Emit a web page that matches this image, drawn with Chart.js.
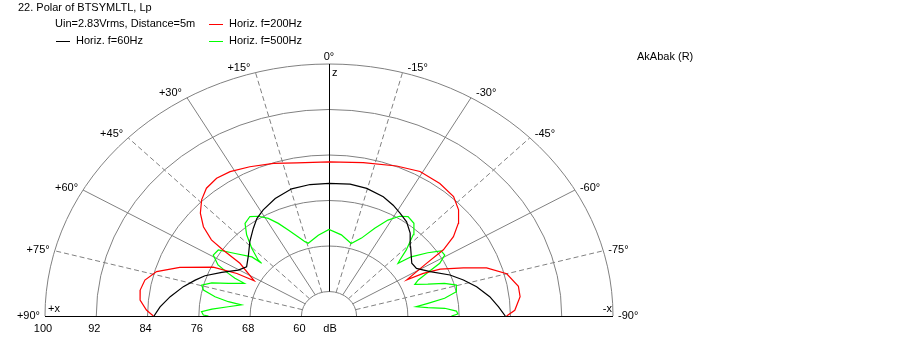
<!DOCTYPE html>
<html>
<head>
<meta charset="utf-8">
<script src="https://cdn.jsdelivr.net/npm/chart.js@4/dist/chart.umd.min.js"></script>
<style>
  body { margin: 0; background: #fff; }
</style>
</head>
<body>
<canvas id="polar" width="907" height="354"></canvas>
<script>
// rings of the polar grid (dB), and the angles of the spokes
const dbRings = [100, 92, 84, 76, 68, 60];
const spokeAngles = [-75, -60, -45, -30, -15, 0, 15, 30, 45, 60, 75];
const angleLabels = [-90, -75, -60, -45, -30, -15, 0, 15, 30, 45, 60, 75, 90];

// Horiz. f=60Hz  (angle in deg, + is left; level in dB)
const angles60 = [-90, -86.5, -82.3, -77.4, -73.2, -69.1, -63.7, -58.5, -54.3, -46.3, -41, -36.2, -31.5, -27.2, -22, -14.7, -8.1, 0,
  7.3, 14.6, 22.1, 28.8, 33.3, 37.5, 43.3, 49.6, 56, 60.3, 65.4, 69.9, 73.2, 77.2, 82.2, 86.5, 90];
const level60 = [83.2, 82.2, 81.0, 79.3, 77.6, 75.9, 73.3, 71.7, 71.6, 73.3, 75.0, 76.2, 76.9, 77.6, 78.3, 78.9, 79.1, 79.0,
  79.0, 78.8, 78.0, 77.0, 76.2, 75.1, 73.7, 72.2, 71.2, 72.0, 74.1, 76.3, 77.5, 79.0, 80.7, 82.1, 83.0];

// Horiz. f=200Hz
const angles200 = [-90, -88, -83.5, -80, -75, -71, -68, -64.6, -63, -62.4, -58.7, -56.9, -54.3, -51.1, -47.3, -42.8, -36.6, -29.2, -21.8, -11.2, 0,
  10.6, 17.9, 25.2, 31.3, 35.9, 40.4, 44.2, 48, 51.3, 53.9, 54.9, 56.3, 62.1, 62.5, 64.6, 69.8, 73.8, 77.6, 81.2, 84.6, 87.9, 90];
const level200 = [83.4, 84.7, 85.7, 85.7, 84.4, 81.7, 78.3, 74.9, 72.2, 69.4, 73.5, 77.0, 79.6, 81.6, 83.2, 84.3, 84.7, 84.8, 84.1, 83.2, 82.8,
  83.1, 83.9, 84.7, 85.4, 85.6, 85.2, 84.2, 82.7, 80.8, 78.4, 75.9, 72.4, 68.9, 71.9, 75.7, 80.5, 83.7, 85.1, 85.5, 85.3, 84.2, 83.1];

// Horiz. f=500Hz
const angles500 = [-90, -89, -87.5, -85.7, -84.6, -83.2, -81.8, -80.2, -77.9, -74.7, -72.3, -70, -67.4, -65.5, -63.6, -61.8, -59.3, -56.8,
  -54.2, -50.9, -49.3, -48.3, -46.1, -42.6, -39.1, -35.2, -32.1, -28.6, -24.8, -20.3, -15.2, -7.7, 0,
  6.7, 14.2, 16, 19, 22.8, 25.9, 28.9, 32.1, 35.2, 38.8, 42, 45.4, 48.3, 48.6, 49.2, 53.1, 56.1, 59.3, 62.6, 64.5, 65.7, 66.5,
  69.9, 72.3, 74.7, 76.9, 79.2, 80.9, 81.9, 84.1, 86.2, 87.8, 89.5, 90];
const level500 = [74.8, 75.8, 75.6, 73.8, 71.2, 69.4, 71.3, 74.0, 76.0, 76.3, 74.6, 72.1, 70.2, 71.0, 72.9, 75.3, 76.7, 76.6,
  74.7, 72.2, 69.9, 70.5, 72.4, 75.1, 76.7, 77.1, 76.4, 74.9, 72.7, 70.3, 68.9, 70.1, 70.9,
  70.0, 68.9, 69.3, 70.4, 72.1, 73.8, 75.3, 76.4, 77.1, 76.6, 74.9, 72.6, 70.5, 69.7, 71.6, 74.0, 76.5, 76.7, 75.2, 73.1, 71.8, 70.1,
  72.4, 74.9, 76.3, 75.8, 73.8, 71.6, 69.5, 71.5, 74.0, 75.6, 75.3, 74.5];

const DB_CENTER = 55.7;           // level that sits at the middle of the plot
const R = 100 - DB_CENTER;        // outer ring
const GRAY = "#808080";
const FONT = "11px 'Liberation Sans', Arial, sans-serif";

const toXY = (deg, db) => {
  const a = deg * Math.PI / 180;
  const r = db - DB_CENTER;
  return { x: -r * Math.sin(a), y: r * Math.cos(a) };
};
const curve = (angles, levels) => angles.map((a, i) => toXY(a, levels[i]));

const polarGrid = {
  id: "polarGrid",
  beforeDatasetsDraw(chart) {
    const { ctx, scales: { x, y } } = chart;
    const cx = x.getPixelForValue(0), cy = y.getPixelForValue(0);
    const px = (p) => [x.getPixelForValue(p.x), y.getPixelForValue(p.y)];
    ctx.save();
    ctx.lineWidth = 1;
    ctx.strokeStyle = GRAY;
    dbRings.forEach((db) => {
      const rx = x.getPixelForValue(db - DB_CENTER) - cx;
      const ry = cy - y.getPixelForValue(db - DB_CENTER);
      ctx.beginPath();
      ctx.ellipse(cx, cy, rx, ry, 0, Math.PI, 2 * Math.PI);
      ctx.stroke();
    });
    spokeAngles.forEach((a) => {
      const [x0, y0] = px(toXY(a, 60));
      const [x1, y1] = px(toXY(a, 100));
      ctx.setLineDash(a % 30 === 0 ? [] : [5, 3]);
      ctx.strokeStyle = a === 0 ? "#000" : GRAY;
      ctx.beginPath();
      ctx.moveTo(a === 0 ? x0 + 0.5 : x0, y0);
      ctx.lineTo(a === 0 ? x1 + 0.5 : x1, y1);
      ctx.stroke();
    });
    ctx.setLineDash([]);
    ctx.strokeStyle = "#000";
    ctx.beginPath();
    ctx.moveTo(x.getPixelForValue(-R), cy + 0.5);
    ctx.lineTo(x.getPixelForValue(R), cy + 0.5);
    ctx.stroke();
    ctx.restore();
  },
  afterDraw(chart) {
    const { ctx, scales: { x, y } } = chart;
    const cx = x.getPixelForValue(0), cy = y.getPixelForValue(0);
    ctx.save();
    ctx.font = FONT;
    ctx.fillStyle = "#000";
    ctx.textBaseline = "middle";

    // angle labels round the outer ring
    angleLabels.forEach((a) => {
      const p = toXY(a, 100);
      const lx = x.getPixelForValue(p.x), ly = y.getPixelForValue(p.y);
      const s = Math.sin(a * Math.PI / 180), c = Math.cos(a * Math.PI / 180);
      const txt = (a > 0 ? "+" : "") + a + "°";
      if (a === 0) {
        ctx.textAlign = "center";
        ctx.fillText(txt, lx, ly - 7);
      } else {
        ctx.textAlign = a > 0 ? "right" : "left";
        ctx.fillText(txt, lx - 5 * Math.sign(s), ly - 5 * c);
      }
    });

    // dB ticks along the left half of the base line
    ctx.textAlign = "center";
    dbRings.forEach((db) => {
      ctx.fillText(String(db), x.getPixelForValue(-(db - DB_CENTER)) - 2, cy + 13);
    });
    ctx.fillText("dB", cx + 1, cy + 13);

    ctx.textAlign = "left";
    ctx.fillText("z", cx + 3, 73);
    ctx.fillText("+x", x.getPixelForValue(-R) + 3, cy - 7);
    ctx.textAlign = "right";
    ctx.fillText("-x", x.getPixelForValue(R) - 1, cy - 7);

    // heading and legend
    ctx.textAlign = "left";
    ctx.fillText("22. Polar of BTSYMLTL, Lp", 18, 8);
    ctx.fillText("Uin=2.83Vrms, Distance=5m", 55, 24);
    ctx.fillText("AkAbak (R)", 637, 57);
    const slots = [[56, 41], [209, 24], [209, 41]];
    chart.data.datasets.forEach((ds, i) => {
      const [lx, ly] = slots[i];
      ctx.fillStyle = ds.borderColor;
      ctx.fillRect(lx, ly, 14, 1);
      ctx.fillStyle = "#000";
      ctx.fillText(ds.label, lx + 20, ly);
    });
    ctx.restore();
  },
};

new Chart(document.getElementById("polar"), {
  type: "scatter",
  data: {
    datasets: [
      { label: "Horiz. f=60Hz", data: curve(angles60, level60), borderColor: "#000000" },
      { label: "Horiz. f=200Hz", data: curve(angles200, level200), borderColor: "#ff0000" },
      { label: "Horiz. f=500Hz", data: curve(angles500, level500), borderColor: "#00ff00" },
    ].map((d) => ({ ...d, showLine: true, pointRadius: 0, borderWidth: 1.2, tension: 0, fill: false })),
  },
  options: {
    responsive: false,
    animation: false,
    events: [],
    layout: { padding: { left: 45, right: 294, top: 64, bottom: 38 } },
    scales: {
      x: { type: "linear", min: -R, max: R, display: false },
      y: { type: "linear", min: 0, max: R, display: false },
    },
    plugins: { legend: { display: false }, tooltip: { enabled: false }, title: { display: false } },
  },
  plugins: [polarGrid],
});
</script>
</body>
</html>
